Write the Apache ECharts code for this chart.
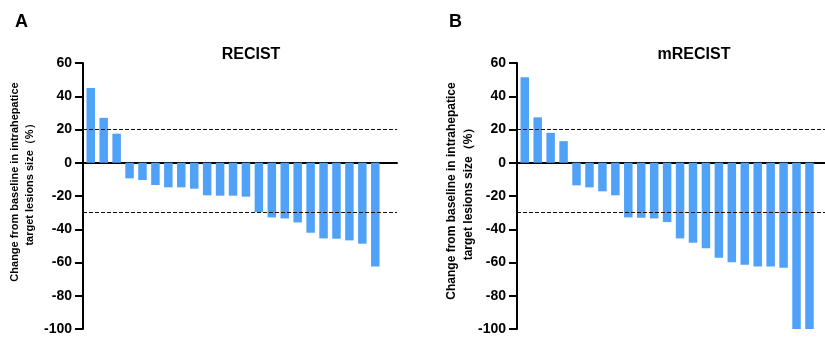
<!DOCTYPE html>
<html>
<head>
<meta charset="utf-8">
<script src="https://cdn.jsdelivr.net/npm/echarts@6/dist/echarts.min.js"></script>
<style>
  html, body { margin: 0; padding: 0; background: #fff; }
  #main { width: 825px; height: 338px; }
</style>
</head>
<body>
<div id="main"></div>
<script>
// 数据
var recistValues = [45, 27, 17.5, -9.4, -10.4, -13.4, -14.8, -14.8, -15.6, -19.6, -19.8, -19.8, -20.4,
  -29.7, -32.9, -33.5, -35.9, -42.1, -45.5, -45.7, -46.7, -48.7, -62.4];
var mrecistValues = [51.5, 27.3, 18, 13, -13.6, -14.8, -17.2, -19.6, -32.9, -33.1, -33.5, -35.7,
  -45.5, -48.1, -51.5, -57.1, -59.9, -61.4, -62.4, -62.4, -63.2, -100, -100];
var yTicks = [-100, -80, -60, -40, -20, 0, 20, 40, 60];
var cutoffs = [20, -30];
var panelTitles = ['RECIST', 'mRECIST'];
var yName = 'Change from baseline in intrahepatice\ntarget lesions size（%）';

var font = '"Liberation Sans", Arial, sans-serif';
var barColor = '#50a2f8';

function toPairs(arr) {
  return arr.map(function (v, i) { return [i + 1, v]; });
}

function yAxisOf(idx) {
  return {
    type: 'value', gridIndex: idx,
    min: yTicks[0], max: yTicks[yTicks.length - 1], interval: 20,
    axisLine: { show: true, lineStyle: { color: '#000', width: 2 } },
    axisTick: { show: true, length: 8, lineStyle: { color: '#000', width: 2 } },
    axisLabel: { color: '#000', fontSize: 14, fontWeight: 'bold', fontFamily: font, margin: 11 },
    splitLine: { show: false }
  };
}

function xAxisOf(idx, max) {
  return {
    type: 'value', gridIndex: idx, min: 0.4, max: max,
    axisLine: { show: true, onZero: true, lineStyle: { color: '#000', width: 2 } },
    axisTick: { show: false }, axisLabel: { show: false }, splitLine: { show: false }
  };
}

function barsOf(idx, values) {
  return {
    type: 'bar', xAxisIndex: idx, yAxisIndex: idx,
    data: toPairs(values), barWidth: 8.5,
    itemStyle: { color: barColor },
    markLine: {
      silent: true, symbol: 'none', label: { show: false },
      lineStyle: { color: '#111', width: 1.2, type: [4, 2] },
      data: cutoffs.map(function (c) { return { yAxis: c }; })
    }
  };
}

function yNameText(x, y, size, lh) {
  return {
    type: 'text', x: x, y: y, rotation: Math.PI / 2,
    style: {
      text: yName, align: 'center', verticalAlign: 'middle', lineHeight: lh,
      font: 'bold ' + size + 'px ' + font, fill: '#000'
    }
  };
}

var myChart = echarts.init(document.getElementById('main'));
var option = {
  animation: false,
  title: [
    { text: 'A', left: 10, top: 8, textStyle: { fontSize: 18, fontWeight: 'bold', fontFamily: font, color: '#000' } },
    { text: 'B', left: 444, top: 8, textStyle: { fontSize: 18, fontWeight: 'bold', fontFamily: font, color: '#000' } },
    { text: panelTitles[0], left: 246, top: 42, textAlign: 'center', textStyle: { fontSize: 16, fontWeight: 'bold', fontFamily: font, color: '#000' } },
    { text: panelTitles[1], left: 689, top: 42, textAlign: 'center', textStyle: { fontSize: 16, fontWeight: 'bold', fontFamily: font, color: '#000' } }
  ],
  grid: [
    { left: 83, top: 63, width: 314, height: 266 },
    { left: 517, top: 63, width: 308, height: 266 }
  ],
  xAxis: [xAxisOf(0, 24.68), xAxisOf(1, 24.2)],
  yAxis: [yAxisOf(0), yAxisOf(1)],
  graphic: [yNameText(22, 182, 11, 15), yNameText(460, 191, 12, 17)],
  series: [barsOf(0, recistValues), barsOf(1, mrecistValues)]
};
myChart.setOption(option);
window.addEventListener('resize', function () { myChart.resize(); });
</script>
</body>
</html>
